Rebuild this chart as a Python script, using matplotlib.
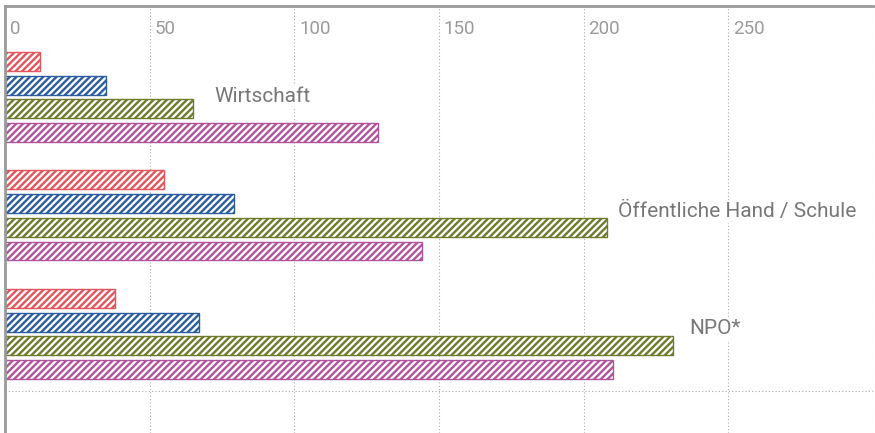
import matplotlib.pyplot as plt
from matplotlib.transforms import blended_transform_factory

plt.rcParams['font.family'] = ['Roboto', 'DejaVu Sans']
plt.rcParams['hatch.linewidth'] = 1.7

groups = ["Wirtschaft", "Öffentliche Hand / Schule", "NPO*"]
series_colors = ["#e5545b", "#2b5c9e", "#6f7a2c", "#b0529c"]
values = [
    [12, 35, 65, 129],
    [55, 79, 208, 144],
    [38, 67, 231, 210],
]
label_x = [72.5, 212, 236.5]
label_y = [1.5, 6.35, 11.28]
ticks = [0, 50, 100, 150, 200, 250]

fig = plt.figure(figsize=(8.75, 4.33), dpi=100)
ax = fig.add_axes([5 / 875, 0, 868 / 875, 427 / 433])

for g, vals in enumerate(values):
    for i, v in enumerate(vals):
        y = g * 5 + i
        ax.barh(y, v, height=0.8, color="white", edgecolor=series_colors[i],
                hatch="/////", linewidth=1.0, zorder=2)
    ax.text(label_x[g], label_y[g], groups[g], fontsize=15, color="#777777",
            ha="left", va="center", zorder=3,
            bbox=dict(facecolor="white", edgecolor="none", pad=1))

ax.set_xlim(0, 300)
ax.set_ylim(15.68, -2.34)

for t in range(50, 301, 50):
    ax.axvline(t, color="#aaaaaa", linestyle=(0, (1, 2)), linewidth=0.8, zorder=1)
ax.axhline(13.9, color="#aaaaaa", linestyle=(0, (1, 2)), linewidth=0.8, zorder=1)

trans = blended_transform_factory(ax.transData, ax.transAxes)
for t in ticks:
    ax.text(t + 1.7, 0.947, str(t), transform=trans, fontsize=13.5,
            color="#9a9a9a", ha="left", va="center")

ax.set_xticks([])
ax.set_yticks([])
for s in ["right", "bottom"]:
    ax.spines[s].set_visible(False)
for s in ["top", "left"]:
    ax.spines[s].set_color("#999999")
    ax.spines[s].set_linewidth(2)

fig.savefig("out.png", dpi=100)
